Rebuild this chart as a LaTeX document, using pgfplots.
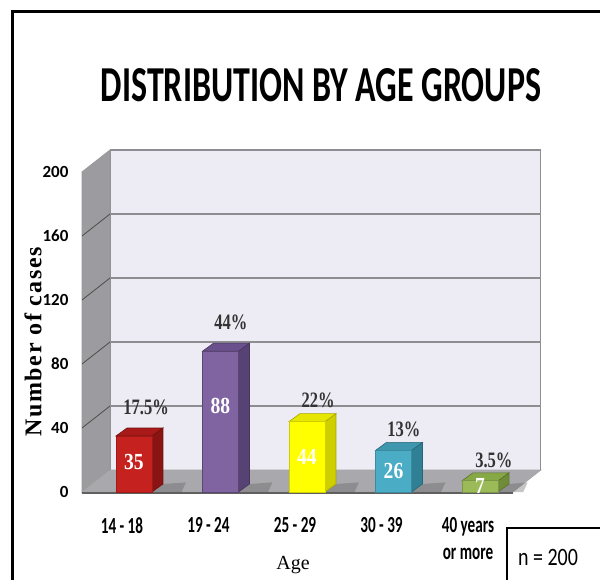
\documentclass[border=0pt]{standalone}
\usepackage{pgfplots}
\pgfplotsset{compat=1.18}
\usepackage{fontspec}
\setmainfont{Liberation Serif}
\newfontfamily\carlito{Carlito}
\newcommand\xtl[1]{\scalebox{0.66}[1]{#1}}
\definecolor{wall}{HTML}{EDEBF3}
\definecolor{sidewall}{HTML}{9C9CA0}
\definecolor{floorc}{HTML}{A9A9AD}
\definecolor{gridc}{HTML}{8E8E92}
\definecolor{redF}{HTML}{C4211F}\definecolor{redS}{HTML}{8A1413}\definecolor{redT}{HTML}{A81A19}
\definecolor{purF}{HTML}{8064A2}\definecolor{purS}{HTML}{574274}\definecolor{purT}{HTML}{6A508C}
\definecolor{yelF}{HTML}{FFFF00}\definecolor{yelS}{HTML}{CFCF00}\definecolor{yelT}{HTML}{E6E600}
\definecolor{cyaF}{HTML}{4BACC6}\definecolor{cyaS}{HTML}{2F7F95}\definecolor{cyaT}{HTML}{3E97AF}
\definecolor{greF}{HTML}{9BBB59}\definecolor{greS}{HTML}{6F8C36}\definecolor{greT}{HTML}{86A845}
\begin{document}
\begin{tikzpicture}
\useasboundingbox (0,0) rectangle (600pt,579pt);
\fill[white] (0,0) rectangle (600pt,579pt);
\draw[line width=3pt] (12pt,-5pt) -- (12pt,567pt) -- (605pt,567pt);
\node[inner sep=0pt] at (321pt,494pt) {\resizebox{440pt}{33pt}{\carlito\bfseries DISTRIBUTION BY AGE GROUPS}};
\begin{axis}[
  at={(82pt,87pt)}, anchor=south west,
  scale only axis, width=458.9pt, height=342pt,
  xmin=-0.601, xmax=4.704, ymin=0, ymax=213.75,
  clip=false,
  axis line style={draw=none},
  tick style={draw=none},
  ytick={0,40,...,200},
  yticklabels={0,40,80,120,160,200},
  xtick={0,1,2,3,4},
  xticklabels={\xtl{14 - 18}, \xtl{19 - 24}, \xtl{25 - 29}, \xtl{30 - 39}, {\xtl{40 years}\\[1pt]\xtl{or more}}},
  yticklabel style={font=\carlito\bfseries\fontsize{17}{17}\selectfont, xshift=-10pt},
  xticklabel style={font=\carlito\bfseries\fontsize{23}{26}\selectfont, align=center, xshift=-12pt, yshift=-22pt, anchor=north},
]
% back wall
\addplot[fill=wall, draw=gridc, line width=1pt] coordinates {(-0.277,13.75) (4.704,13.75) (4.704,213.75) (-0.277,213.75)} -- cycle;
% back grid lines
\addplot[gridc, line width=1.5pt] coordinates {(-0.277,53.75) (4.704,53.75)};
\addplot[gridc, line width=1.5pt] coordinates {(-0.277,93.75) (4.704,93.75)};
\addplot[gridc, line width=1.5pt] coordinates {(-0.277,133.75) (4.704,133.75)};
\addplot[gridc, line width=1.5pt] coordinates {(-0.277,173.75) (4.704,173.75)};
\addplot[gridc, line width=1.5pt] coordinates {(-0.277,213.75) (4.704,213.75)};
% side wall
\addplot[fill=sidewall, draw=gray!80, line width=0.8pt] coordinates {(-0.601,0) (-0.277,13.75) (-0.277,213.75) (-0.601,200)} -- cycle;
\addplot[gray!60!black, line width=0.8pt] coordinates {(-0.601,40) (-0.277,53.75)};
\addplot[gray!60!black, line width=0.8pt] coordinates {(-0.601,80) (-0.277,93.75)};
\addplot[gray!60!black, line width=0.8pt] coordinates {(-0.601,120) (-0.277,133.75)};
\addplot[gray!60!black, line width=0.8pt] coordinates {(-0.601,160) (-0.277,173.75)};
% floor
\addplot[fill=floorc, draw=gray!70, line width=0.6pt] coordinates {(-0.601,0) (4.38,0) (4.704,13.75) (-0.277,13.75)} -- cycle;
\addplot[fill=gray!75!black, draw=none] coordinates {(-0.601,0) (4.38,0) (4.38,-1.5) (-0.601,-1.5)} -- cycle;
% floor shadows
\addplot[fill=gray!70!black, draw=none, opacity=0.35] coordinates {(0.208,0) (0.55,0) (0.6,6) (0.335,5)} -- cycle;
\addplot[fill=gray!70!black, draw=none, opacity=0.35] coordinates {(1.208,0) (1.55,0) (1.6,6) (1.335,5)} -- cycle;
\addplot[fill=gray!70!black, draw=none, opacity=0.35] coordinates {(2.208,0) (2.55,0) (2.6,6) (2.335,5)} -- cycle;
\addplot[fill=gray!70!black, draw=none, opacity=0.35] coordinates {(3.208,0) (3.55,0) (3.6,6) (3.335,5)} -- cycle;
\addplot[fill=gray!70!black, draw=none, opacity=0.35] coordinates {(4.208,0) (4.5,0) (4.55,6) (4.335,5)} -- cycle;
% bar 1 (35)
\addplot[fill=redS, draw=redS!80!black, line width=0.6pt] coordinates {(0.208,0) (0.335,5) (0.335,40) (0.208,35)} -- cycle;
\addplot[fill=redT, draw=redS!80!black, line width=0.6pt] coordinates {(-0.208,35) (0.208,35) (0.335,40) (-0.081,40)} -- cycle;
\addplot[ybar, bar width=36pt, fill=redF, draw=redF!80!black, line width=0.8pt] coordinates {(0,35)};
% bar 2 (88)
\addplot[fill=purS, draw=purS!80!black, line width=0.6pt] coordinates {(1.208,0) (1.335,5) (1.335,93) (1.208,88)} -- cycle;
\addplot[fill=purT, draw=purS!80!black, line width=0.6pt] coordinates {(0.792,88) (1.208,88) (1.335,93) (0.919,93)} -- cycle;
\addplot[ybar, bar width=36pt, fill=purF, draw=purF!70!black, line width=0.8pt] coordinates {(1,88)};
% bar 3 (44)
\addplot[fill=yelS, draw=yelS!80!black, line width=0.6pt] coordinates {(2.208,0) (2.335,5) (2.335,49) (2.208,44)} -- cycle;
\addplot[fill=yelT, draw=yelS!80!black, line width=0.6pt] coordinates {(1.792,44) (2.208,44) (2.335,49) (1.919,49)} -- cycle;
\addplot[ybar, bar width=36pt, fill=yelF, draw=yelS, line width=0.8pt] coordinates {(2,44)};
% bar 4 (26)
\addplot[fill=cyaS, draw=cyaS!80!black, line width=0.6pt] coordinates {(3.208,0) (3.335,5) (3.335,31) (3.208,26)} -- cycle;
\addplot[fill=cyaT, draw=cyaS!80!black, line width=0.6pt] coordinates {(2.792,26) (3.208,26) (3.335,31) (2.919,31)} -- cycle;
\addplot[ybar, bar width=36pt, fill=cyaF, draw=cyaF!80!black, line width=0.8pt] coordinates {(3,26)};
% bar 5 (7)
\addplot[fill=greS, draw=greS!80!black, line width=0.6pt] coordinates {(4.208,0) (4.335,5) (4.335,12) (4.208,7)} -- cycle;
\addplot[fill=greT, draw=greS!80!black, line width=0.6pt] coordinates {(3.792,7) (4.208,7) (4.335,12) (3.919,12)} -- cycle;
\addplot[ybar, bar width=36pt, fill=greF, draw=greF!80!black, line width=0.8pt] coordinates {(4,7)};
% value labels
\begin{scope}[every node/.style={font=\bfseries\fontsize{23}{23}\selectfont, text=white, inner sep=0pt, xscale=0.85}]
\node at (axis cs:0,18.5) {35};
\node at (axis cs:1,54) {88};
\node at (axis cs:2,22) {44};
\node at (axis cs:3,13) {26};
\node at (axis cs:4,4) {7};
\end{scope}
\begin{scope}[every node/.style={font=\bfseries\fontsize{22}{22}\selectfont, text=black!80, inner sep=0pt, xscale=0.75}]
\node at (axis cs:0.14,53) {17.5\%};
\node at (axis cs:1.12,106) {44\%};
\node at (axis cs:2.13,57.5) {22\%};
\node at (axis cs:3.12,39) {13\%};
\node at (axis cs:4.16,20) {3.5\%};
\end{scope}
\end{axis}
\node[rotate=90, inner sep=0pt] at (33pt,237pt) {\fontsize{24}{24}\selectfont\bfseries\addfontfeature{LetterSpace=7}Number of cases};
\node[inner sep=0pt] at (293pt,14pt) {\fontsize{20}{20}\selectfont Age};
\draw[line width=2pt] (507pt,-5pt) rectangle (610pt,51pt);
\node[inner sep=0pt] at (548pt,22pt) {\scalebox{0.8}[1]{\carlito\fontsize{25}{25}\selectfont n = 200}};
\end{tikzpicture}
\end{document}
